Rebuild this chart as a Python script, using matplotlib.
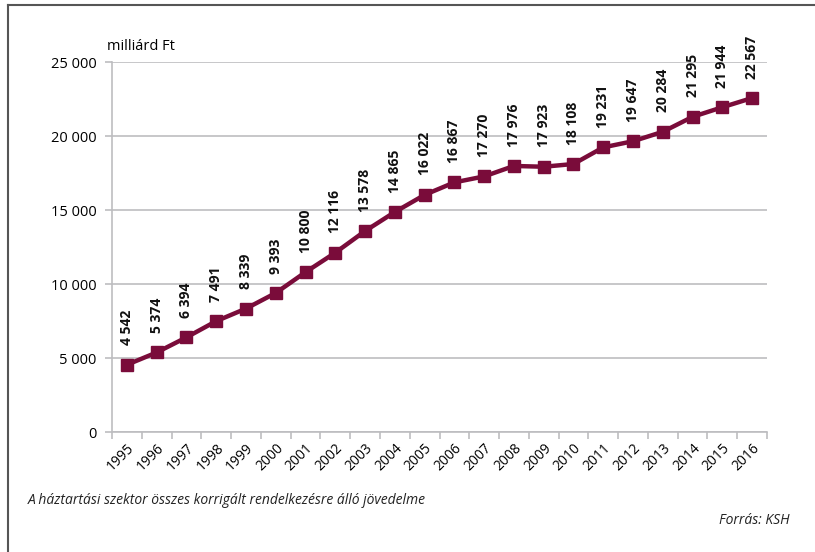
import matplotlib
matplotlib.use("Agg")
import matplotlib.pyplot as plt
from matplotlib.ticker import FuncFormatter, FixedLocator
from matplotlib.lines import Line2D

years = [str(y) for y in range(1995, 2017)]
values = [4542, 5374, 6394, 7491, 8339, 9393, 10800, 12116, 13578, 14865, 16022,
          16867, 17270, 17976, 17923, 18108, 19231, 19647, 20284, 21295, 21944, 22567]
yticks = [0, 5000, 10000, 15000, 20000, 25000]

plt.rcParams['font.family'] = ['Open Sans', 'DejaVu Sans']

def fmt(v):
    return f"{int(v):,}".replace(",", " ")

color = "#7A0C3A"
grid = "#BDBDC0"

fig = plt.figure(figsize=(8.15, 5.52), dpi=100)
ax = fig.add_axes([112/815, 1-432/552, (767-112)/815, (432-62)/552])

x = list(range(len(years)))
ax.plot(x, values, color=color, lw=3.2, marker='s', ms=9, mfc=color, mec=color, zorder=3)
for xi, v in zip(x, values):
    ax.annotate(fmt(v), (xi, v), xytext=(0, 14), textcoords='offset points',
                rotation=90, ha='center', va='bottom', fontsize=10,
                fontweight='bold', color='#111111')

ax.set_xlim(-0.5, len(years) - 0.5)
ax.set_ylim(0, 25000)
ax.set_yticks(yticks)
ax.yaxis.set_major_formatter(FuncFormatter(lambda v, p: fmt(v)))
ax.yaxis.grid(True, color=grid, lw=1.2)
ax.set_axisbelow(True)

ax.set_xticks(x)
ax.set_xticklabels(years, rotation=45, ha='right', rotation_mode='anchor', fontsize=10)
ax.tick_params(axis='x', length=0, pad=6)
ax.xaxis.set_minor_locator(FixedLocator([i - 0.5 for i in range(len(years) + 1)]))
ax.tick_params(axis='x', which='minor', length=5, color=grid, width=1.2)
ax.tick_params(axis='y', length=5, color=grid, width=1.2, labelsize=10.5, pad=6)

for s in ['top', 'right']:
    ax.spines[s].set_visible(False)
for s in ['left', 'bottom']:
    ax.spines[s].set_color(grid)
    ax.spines[s].set_linewidth(1.2)

fig.text(107/815, 1-47/552, "milliárd Ft", fontsize=10.5, ha='left', va='center')
fig.text(28/815, 1-500/552, "A háztartási szektor összes korrigált rendelkezésre álló jövedelme",
         fontsize=10, style='italic', ha='left', va='center', color='#222222')
fig.text(790/815, 1-521/552, "Forrás: KSH", fontsize=10, style='italic', ha='right',
         va='center', color='#222222')

fig.add_artist(Line2D([8/815, 8/815], [0, 1-5/552], transform=fig.transFigure, color='#555555', lw=1.5))
fig.add_artist(Line2D([8/815, 1], [1-5/552, 1-5/552], transform=fig.transFigure, color='#555555', lw=1.5))

fig.savefig("out.png", dpi=100)
